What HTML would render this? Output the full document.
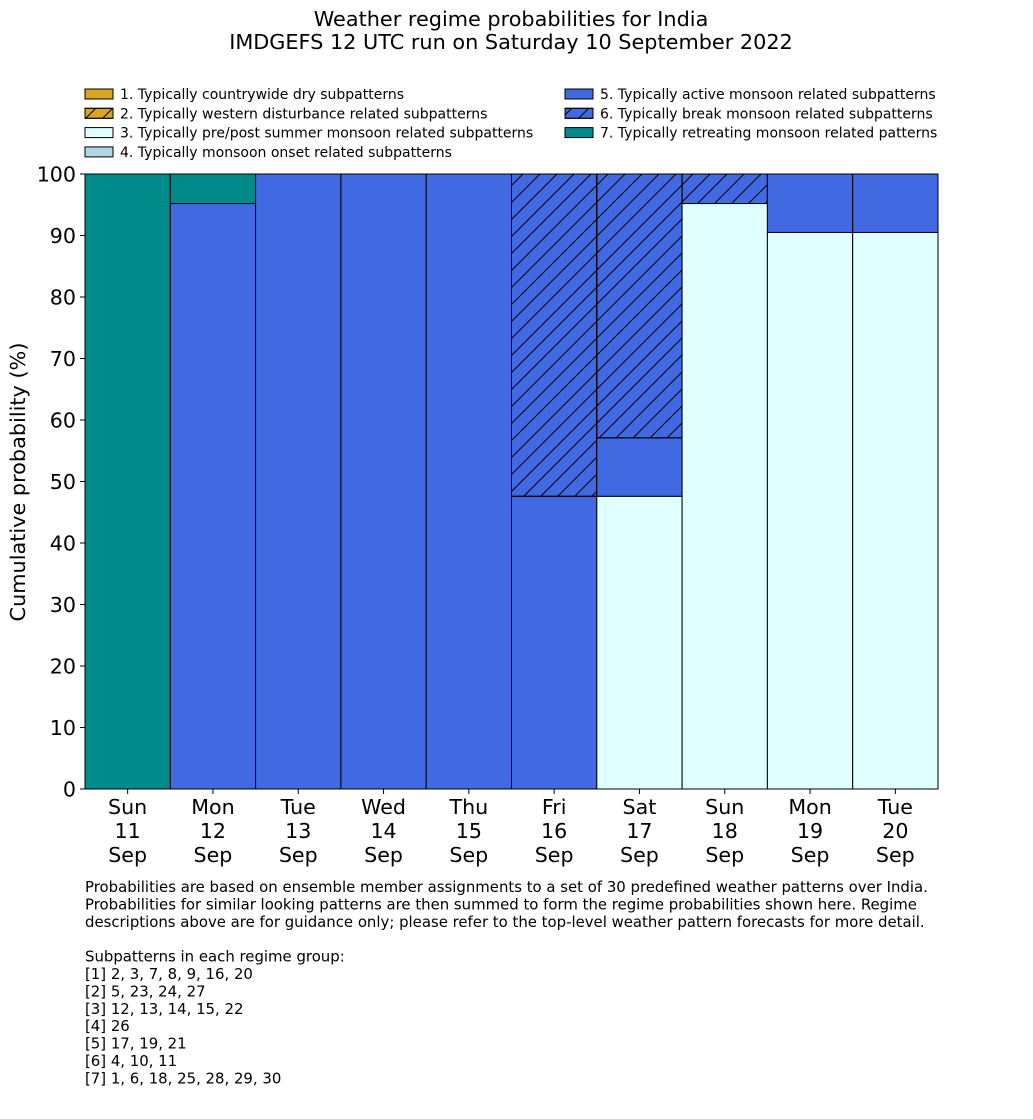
<!DOCTYPE html>
<html><head><meta charset="utf-8"><style>
body{margin:0;background:#fff;}
svg text{font-family:"DejaVu Sans","Liberation Sans",sans-serif;fill:#000;}
</style></head><body>
<svg id="chart" width="1033" height="1114" viewBox="0 0 1033 1114" xmlns="http://www.w3.org/2000/svg">
<defs>
<pattern id="hatch" patternUnits="userSpaceOnUse" width="17" height="17">
<path d="M-2,19 L19,-2 M-4,4 L4,-4 M13,21 L21,13" stroke="#000" stroke-width="1"/>
</pattern>
</defs>
<text x="511" y="26" font-size="20.8" text-anchor="middle">Weather regime probabilities for India</text>
<text x="511" y="49" font-size="20.8" text-anchor="middle">IMDGEFS 12 UTC run on Saturday 10 September 2022</text>
<g id="legend"></g>
<g id="bars"></g>
<g id="axes"></g>
<text transform="translate(25,482) rotate(-90)" font-size="20.8" text-anchor="middle">Cumulative probability (%)</text>
<g id="notes" font-size="14.9"></g>
</svg>
<script>
const days = ["Sun","Mon","Tue","Wed","Thu","Fri","Sat","Sun","Mon","Tue"];
const dates = ["11","12","13","14","15","16","17","18","19","20"];
const regimeNames = ["1. Typically countrywide dry subpatterns","2. Typically western disturbance related subpatterns","3. Typically pre/post summer monsoon related subpatterns","4. Typically monsoon onset related subpatterns","5. Typically active monsoon related subpatterns","6. Typically break monsoon related subpatterns","7. Typically retreating monsoon related patterns"];
const r1 = [0,0,0,0,0,0,0,0,0,0];
const r2 = [0,0,0,0,0,0,0,0,0,0];
const r3 = [0,0,0,0,0,0,47.6,95.2,90.5,90.5];
const r4 = [0,0,0,0,0,0,0,0,0,0];
const r5 = [0,95.2,100,100,100,47.6,9.5,0,9.5,9.5];
const r6 = [0,0,0,0,0,52.4,42.9,4.8,0,0];
const r7 = [100,4.8,0,0,0,0,0,0,0,0];
const yTicks = [0,10,20,30,40,50,60,70,80,90,100];
const notes = ["Probabilities are based on ensemble member assignments to a set of 30 predefined weather patterns over India.","Probabilities for similar looking patterns are then summed to form the regime probabilities shown here. Regime","descriptions above are for guidance only; please refer to the top-level weather pattern forecasts for more detail.","","Subpatterns in each regime group:","[1] 2, 3, 7, 8, 9, 16, 20","[2] 5, 23, 24, 27","[3] 12, 13, 14, 15, 22","[4] 26","[5] 17, 19, 21","[6] 4, 10, 11","[7] 1, 6, 18, 25, 28, 29, 30"];

const NS="http://www.w3.org/2000/svg";
const fills=["#DAA520","#DAA520","#E0FFFF","#ADD8E6","#4169E1","#4169E1","#008B8B"];
const hatched=[false,true,false,false,false,true,false];
const series=[r1,r2,r3,r4,r5,r6,r7];
const X0=85,X1=938,Y0=789,Y1=174;
const bw=(X1-X0)/days.length;
const xs=i=>X0+i*bw;
const ys=v=>Y0-(v/100)*(Y0-Y1);
function mk(tag,attrs,parent){const e=document.createElementNS(NS,tag);for(const k in attrs)e.setAttribute(k,attrs[k]);parent.appendChild(e);return e;}
const bars=document.getElementById('bars');
for(let i=0;i<days.length;i++){
  let cum=0;
  for(let s=0;s<series.length;s++){
    const v=series[s][i]; if(!v) continue;
    const y=ys(cum+v),h=ys(cum)-ys(cum+v);
    const r=mk('rect',{x:xs(i),y:y,width:bw,height:h,fill:fills[s],stroke:'#000','stroke-width':1},bars);
    
    
    if(hatched[s]){const hr=mk('rect',{x:xs(i),y:y,width:bw,height:h,fill:'url(#hatch)',stroke:'#000','stroke-width':1},bars);
      
      }
    cum+=v;
  }
}
const axes=document.getElementById('axes');
const yl=mk('line',{x1:X0,y1:Y1,x2:X0,y2:Y0,stroke:'#000','stroke-width':1},axes);


const xl=mk('line',{x1:X0,y1:Y0,x2:X1,y2:Y0,stroke:'#000','stroke-width':1},axes);


yTicks.forEach(t=>{
  mk('line',{x1:X0-5,y1:ys(t),x2:X0,y2:ys(t),stroke:'#000'},axes);
  const tx=mk('text',{x:X0-9,y:ys(t)+7.5,'font-size':20.6,'text-anchor':'end'},axes);
  tx.textContent=t;
  
  
});
days.forEach((d,i)=>{
  const cx=xs(i)+bw/2;
  mk('line',{x1:cx,y1:Y0,x2:cx,y2:Y0+5,stroke:'#000'},axes);
  [d,dates[i],'Sep'].forEach((s,k)=>{
    const tx=mk('text',{x:cx,y:814+k*24,'font-size':20.6,'text-anchor':'middle'},axes);
    tx.textContent=s;
    
    
  });
});
const leg=document.getElementById('legend');
const pos=[[85,0],[85,1],[85,2],[85,3],[565,0],[565,1],[565,2]];
regimeNames.forEach((n,s)=>{
  const [lx,row]=pos[s];const y=89+row*19.3;
  const g=mk('g',{},leg);
  
  
  mk('rect',{x:lx,y:y,width:28,height:10,fill:fills[s],stroke:'#000'},g);
  if(hatched[s]) mk('rect',{x:lx,y:y,width:28,height:10,fill:'url(#hatch)',stroke:'#000'},g);
  const t=mk('text',{x:lx+35,y:y+10,'font-size':14},g);t.textContent=n;
});
const nt=document.getElementById('notes');
notes.forEach((l,k)=>{const t=mk('text',{x:85,y:892+k*17.4},nt);t.textContent=l;});
</script>
</body></html>
